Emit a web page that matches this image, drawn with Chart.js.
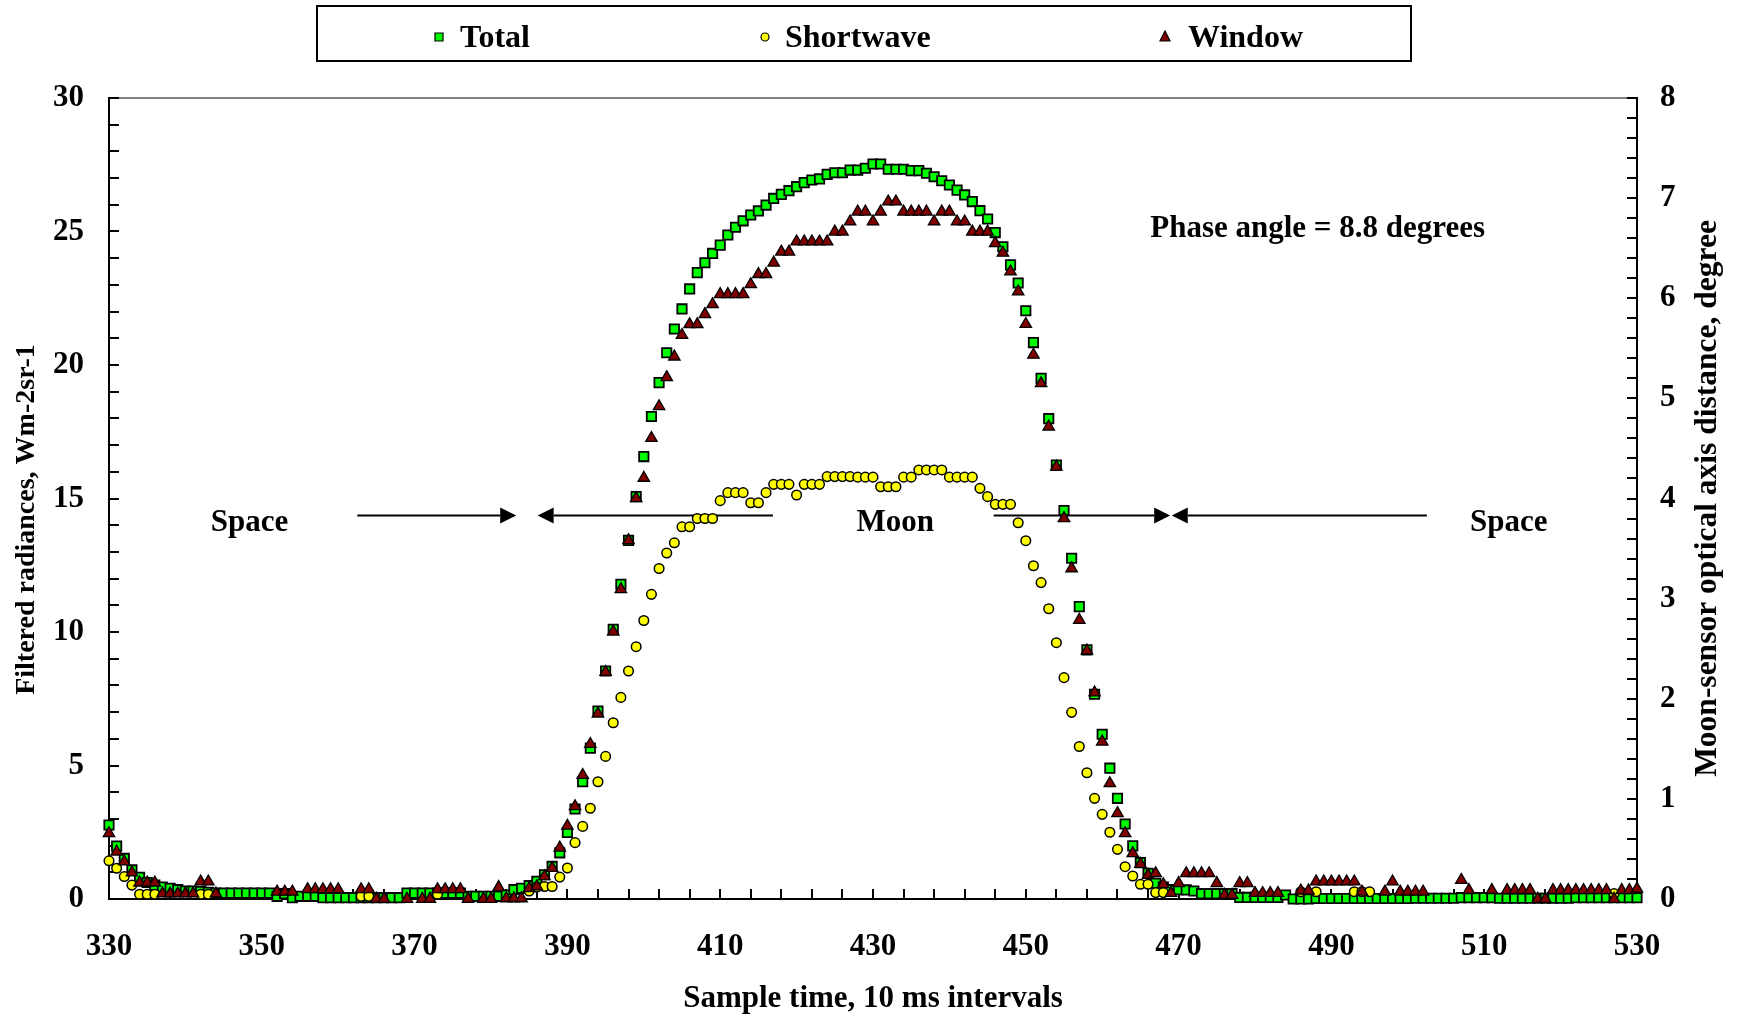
<!DOCTYPE html>
<html>
<head>
<meta charset="utf-8">
<script src="https://cdn.jsdelivr.net/npm/chart.js@4.4.1/dist/chart.umd.min.js"></script>
<style>
  html, body { margin: 0; padding: 0; background: #fff; overflow: hidden; }
  #caixa { width: 1739px; height: 1014px; }
</style>
</head>
<body>
<div id="caixa"><canvas id="grafico"></canvas></div>
<script>
// Amostras de 330 a 530 (intervalos de 10 ms)
const inicio = 330;
const fim = 530;

// Radiâncias (null = ponto fora do eixo / não visível)
const total = [
  2.77, 1.98, 1.52, 1.09, 0.81, 0.62, 0.52, 0.45, 0.40, 0.35,   // 330
  0.30, 0.30, 0.28, 0.25, 0.22, 0.22, 0.22, 0.22, 0.22, 0.22,   // 340
  0.22, 0.22, 0.10, 0.20, 0.05, 0.10, 0.10, 0.10, 0.05, 0.05,   // 350
  0.05, 0.05, 0.05, 0.05, 0.05, 0.05, 0.05, 0.05, 0.05, 0.22,   // 360
  0.22, 0.22, 0.22, 0.22, 0.22, 0.22, 0.22, 0.10, 0.10, 0.10,   // 370
  0.10, 0.10, 0.15, 0.35, 0.40, 0.50, 0.66, 0.91, 1.22, 1.73,   // 380
  2.49, 3.37, 4.39, 5.65, 7.04, 8.54, 10.10, 11.79, 13.43, 15.07, // 390
  16.57, 18.07, 19.34, 20.46, 21.35, 22.10, 22.85, 23.46, 23.83, 24.18, // 400
  24.49, 24.87, 25.16, 25.40, 25.62, 25.77, 25.99, 26.24, 26.39, 26.53, // 410
  26.68, 26.83, 26.93, 26.97, 27.14, 27.20, 27.20, 27.30, 27.30, 27.37, // 420
  27.53, 27.53, 27.33, 27.33, 27.33, 27.28, 27.28, 27.18, 27.05, 26.90, // 430
  26.74, 26.55, 26.37, 26.12, 25.78, 25.47, 24.96, 24.43, 23.75, 23.07, // 440
  22.03, 20.84, 19.50, 17.99, 16.25, 14.55, 12.76, 10.95, 9.33, 7.67,   // 450
  6.17, 4.90, 3.77, 2.81, 1.99, 1.36, 0.96, 0.59, 0.45, 0.35,   // 460
  0.35, 0.34, 0.30, 0.20, 0.20, 0.20, 0.20, 0.20, 0.06, 0.06,   // 470
  0.06, 0.06, 0.06, 0.06, 0.15, 0.00, 0.00, 0.00, 0.02, 0.02,   // 480
  0.02, 0.02, 0.02, 0.02, 0.02, 0.02, 0.02, 0.02, 0.02, 0.02,   // 490
  0.02, 0.03, 0.03, 0.03, 0.03, 0.03, 0.03, 0.05, 0.05, 0.05,   // 500
  0.05, 0.05, 0.03, 0.03, 0.03, 0.03, 0.03, 0.03, 0.03, 0.03,   // 510
  0.03, 0.03, 0.05, 0.05, 0.05, 0.05, 0.05, 0.05, 0.05, 0.05,   // 520
  0.05                                                          // 530
];

const shortwave = [
  1.43, 1.15, 0.84, 0.52, 0.18, 0.18, 0.18, null, null, null,   // 330
  null, null, 0.18, 0.18, null, null, null, null, null, null,   // 340
  null, null, null, null, null, null, null, null, null, null,   // 350
  null, null, null, 0.10, 0.10, null, null, null, null, null,   // 360
  null, null, null, 0.18, null, null, null, null, null, null,   // 370
  null, null, null, null, null, 0.30, 0.45, 0.47, 0.47, 0.82,   // 380
  1.16, 2.11, 2.72, 3.40, 4.39, 5.34, 6.60, 7.55, 8.54, 9.45,   // 390
  10.43, 11.41, 12.38, 12.96, 13.34, 13.94, 13.94, 14.25, 14.25, 14.25, // 400
  14.92, 15.22, 15.22, 15.22, 14.84, 14.84, 15.22, 15.53, 15.53, 15.53, // 410
  15.13, 15.53, 15.53, 15.53, 15.82, 15.82, 15.82, 15.82, 15.80, 15.80, // 420
  15.80, 15.44, 15.44, 15.44, 15.80, 15.80, 16.07, 16.07, 16.07, 16.07, // 430
  15.80, 15.80, 15.80, 15.80, 15.38, 15.07, 14.78, 14.78, 14.78, 14.09, // 440
  13.42, 12.48, 11.85, 10.87, 9.60, 8.29, 6.99, 5.71, 4.73, 3.77,   // 450
  3.17, 2.50, 1.86, 1.21, 0.86, 0.55, 0.55, 0.24, 0.24, null,   // 460
  null, null, null, null, null, null, null, null, null, null,   // 470
  null, null, null, null, null, null, 0.27, null, 0.27, null,   // 480
  null, null, null, 0.27, 0.27, 0.27, null, null, null, null,   // 490
  null, null, null, null, null, null, null, null, null, null,   // 500
  null, null, null, null, null, null, null, null, null, null,   // 510
  null, null, null, null, null, null, null, 0.20, null, null,   // 520
  null                                                          // 530
];

const janela = [
  2.46, 1.77, 1.40, 0.99, 0.61, 0.61, 0.61, 0.20, 0.20, 0.20,   // 330
  0.20, 0.20, 0.65, 0.65, 0.20, null, null, null, null, null,   // 340
  null, null, 0.27, 0.27, 0.27, null, 0.36, 0.36, 0.36, 0.36,   // 350
  0.36, null, null, 0.36, 0.36, 0.00, 0.00, null, null, 0.00,   // 360
  null, 0.00, 0.00, 0.36, 0.36, 0.36, 0.36, 0.00, null, 0.00,   // 370
  0.00, 0.44, 0.02, 0.02, 0.02, 0.40, 0.47, 0.85, 1.16, 1.92,   // 380
  2.74, 3.47, 4.64, 5.80, 6.94, 8.50, 10.01, 11.60, 13.43, 15.01, // 390
  15.77, 17.26, 18.45, 19.54, 20.31, 21.12, 21.52, 21.52, 21.90, 22.27, // 400
  22.65, 22.65, 22.65, 22.65, 23.02, 23.40, 23.40, 23.83, 24.24, 24.24, // 410
  24.62, 24.62, 24.62, 24.62, 24.62, 24.99, 24.99, 25.37, 25.74, 25.74, // 420
  25.37, 25.74, 26.12, 26.12, 25.74, 25.74, 25.74, 25.74, 25.37, 25.74, // 430
  25.74, 25.37, 25.37, 24.99, 24.99, 24.99, 24.56, 24.20, 23.50, 22.75, // 440
  21.53, 20.38, 19.31, 17.69, 16.19, 14.26, 12.38, 10.45, 9.30, 7.73,   // 450
  5.89, 4.33, 3.21, 2.46, 1.71, 1.31, 0.90, 0.96, 0.55, 0.22,   // 460
  0.59, 0.96, 0.96, 0.96, 0.96, 0.59, 0.15, 0.15, 0.59, 0.59,   // 470
  0.22, 0.22, 0.22, 0.22, null, null, 0.31, 0.31, 0.65, 0.65,   // 480
  0.65, 0.65, 0.65, 0.65, 0.27, null, null, 0.27, 0.65, 0.27,   // 490
  0.27, 0.27, 0.27, null, null, null, null, 0.71, 0.33, null,   // 500
  null, 0.33, null, 0.33, 0.33, 0.33, 0.33, 0.00, 0.00, 0.33,   // 510
  0.33, 0.33, 0.33, 0.33, 0.33, 0.33, 0.33, 0.00, 0.33, 0.33,   // 520
  0.38                                                          // 530
];

// Textos e setas da figura (posições em unidades dos eixos)
const rotulos = [
  { texto: 'Space', x: 348.4, y: 14.1 },
  { texto: 'Moon', x: 432.9, y: 14.1 },
  { texto: 'Space', x: 513.2, y: 14.1 },
  { texto: 'Phase angle = 8.8 degrees', x: 488.2, y: 25.1 }
];
const setas = [
  { de: 362.5, ate: 383.3 },
  { de: 416.9, ate: 386.1 },
  { de: 445.8, ate: 468.9 },
  { de: 502.5, ate: 469.1 }
];
const nivelSetas = 14.36;

const FONTE = "'Liberation Serif', 'Times New Roman', serif";
const corTotal = '#00FF00';
const corShort = '#FFFF00';
const corJanela = '#800000';

// Monta os pontos {x, y} ignorando os valores ausentes
function montarPontos(valores) {
  let pontos = [];
  for (let i = 0; i < valores.length; i++) {
    if (valores[i] !== null) {
      pontos.push({ x: inicio + i, y: valores[i] });
    }
  }
  return pontos;
}

function desenharSeta(ctx, x1, x2, y) {
  const dir = x2 > x1 ? 1 : -1;
  const comp = 16;
  ctx.beginPath();
  ctx.moveTo(x1, y);
  ctx.lineTo(x2 - dir * comp, y);
  ctx.stroke();
  ctx.beginPath();
  ctx.moveTo(x2, y);
  ctx.lineTo(x2 - dir * comp, y - 8);
  ctx.lineTo(x2 - dir * comp, y + 8);
  ctx.closePath();
  ctx.fill();
}

function marcador(ctx, tipo, cor, x, y) {
  ctx.fillStyle = cor;
  ctx.strokeStyle = '#000';
  ctx.lineWidth = 1.2;
  ctx.beginPath();
  if (tipo === 'rect') {
    ctx.rect(x - 4, y - 4, 8, 8);
  } else if (tipo === 'circle') {
    ctx.arc(x, y, 4, 0, Math.PI * 2);
  } else {
    ctx.moveTo(x, y - 6);
    ctx.lineTo(x + 5, y + 4);
    ctx.lineTo(x - 5, y + 4);
    ctx.closePath();
  }
  ctx.fill();
  ctx.stroke();
}

const decoracao = {
  id: 'decoracao',
  beforeDatasetsDraw(chart) {
    const ctx = chart.ctx;
    const a = chart.chartArea;
    const sx = chart.scales.x, sy = chart.scales.y, sy2 = chart.scales.y2;
    ctx.save();
    // borda superior cinza
    ctx.strokeStyle = '#808080';
    ctx.lineWidth = 2;
    ctx.beginPath();
    ctx.moveTo(a.left, a.top);
    ctx.lineTo(a.right, a.top);
    ctx.stroke();

    // marcas para dentro
    ctx.strokeStyle = '#000';
    ctx.beginPath();
    for (let v = 0; v <= 30; v += 1) {
      const py = Math.round(sy.getPixelForValue(v));
      ctx.moveTo(a.left, py);
      ctx.lineTo(a.left + 10, py);
    }
    for (let v = inicio; v <= fim; v += 4) {
      const px = Math.round(sx.getPixelForValue(v));
      ctx.moveTo(px, a.bottom);
      ctx.lineTo(px, a.bottom - 10);
    }
    for (let k = 0; k <= 40; k++) {
      const py = Math.round(sy2.getPixelForValue(k * 0.2));
      ctx.moveTo(a.right, py);
      ctx.lineTo(a.right - 10, py);
    }
    ctx.stroke();

    // setas Space / Moon
    ctx.fillStyle = '#000';
    ctx.lineWidth = 2;
    const ys = sy.getPixelForValue(nivelSetas);
    setas.forEach(function (s) {
      desenharSeta(ctx, sx.getPixelForValue(s.de), sx.getPixelForValue(s.ate), ys);
    });
    ctx.restore();
  },
  afterDraw(chart) {
    const ctx = chart.ctx;
    const a = chart.chartArea;
    const sx = chart.scales.x, sy = chart.scales.y;
    const meio = (a.top + a.bottom) / 2;
    ctx.save();
    ctx.fillStyle = '#000';
    ctx.font = 'bold 31px ' + FONTE;
    ctx.textAlign = 'center';
    ctx.textBaseline = 'middle';
    rotulos.forEach(function (r) {
      ctx.fillText(r.texto, sx.getPixelForValue(r.x), sy.getPixelForValue(r.y));
    });

    // título do eixo esquerdo
    ctx.save();
    ctx.translate(26.5, meio + 21);
    ctx.rotate(-Math.PI / 2);
    ctx.font = 'bold 28px ' + FONTE;
    ctx.fillText('Filtered radiances, Wm-2sr-1', 0, 0);
    ctx.restore();

    // título do eixo direito
    ctx.save();
    ctx.translate(1708, meio);
    ctx.rotate(-Math.PI / 2);
    ctx.font = 'bold 31.5px ' + FONTE;
    ctx.fillText('Moon-sensor optical axis distance, degree', 0, 0);
    ctx.restore();

    // legenda em caixa
    ctx.strokeStyle = '#000';
    ctx.lineWidth = 2;
    ctx.strokeRect(317, 6, 1094, 55);
    const itens = [
      { nome: 'Total', tipo: 'rect', cor: corTotal, xm: 439, xt: 460 },
      { nome: 'Shortwave', tipo: 'circle', cor: corShort, xm: 765, xt: 785 },
      { nome: 'Window', tipo: 'triangle', cor: corJanela, xm: 1165, xt: 1188 }
    ];
    itens.forEach(function (it) {
      marcador(ctx, it.tipo, it.cor, it.xm, 37);
      ctx.fillStyle = '#000';
      ctx.font = 'bold 32px ' + FONTE;
      ctx.textAlign = 'left';
      ctx.textBaseline = 'middle';
      ctx.fillText(it.nome, it.xt, 39);
    });
    ctx.restore();
  }
};

const fonteEixo = { family: FONTE, size: 31, weight: 'bold' };

const config = {
  type: 'scatter',
  data: {
    datasets: [
      {
        label: 'Total',
        data: montarPontos(total),
        pointStyle: 'rect',
        pointRadius: 6.6,
        backgroundColor: corTotal,
        borderColor: '#000',
        borderWidth: 1.8,
        order: 3,
        clip: false
      },
      {
        label: 'Shortwave',
        data: montarPontos(shortwave),
        pointStyle: 'circle',
        pointRadius: 4.8,
        backgroundColor: corShort,
        borderColor: '#000',
        borderWidth: 1.5,
        order: 2,
        clip: false
      },
      {
        label: 'Window',
        data: montarPontos(janela),
        pointStyle: 'triangle',
        pointRadius: 6.6,
        backgroundColor: corJanela,
        borderColor: '#000',
        borderWidth: 1.3,
        order: 1,
        clip: false
      }
    ]
  },
  options: {
    responsive: true,
    maintainAspectRatio: false,
    animation: false,
    layout: { padding: { top: 98, left: 0, right: 0, bottom: 0 } },
    plugins: {
      legend: { display: false },
      tooltip: { enabled: false }
    },
    scales: {
      x: {
        type: 'linear',
        position: 'bottom',
        min: inicio,
        max: fim,
        ticks: { stepSize: 20, padding: 29, color: '#000', font: fonteEixo, autoSkip: false, maxRotation: 0 },
        grid: { display: false, drawTicks: false },
        border: { display: true, color: '#000', width: 2 },
        title: {
          display: true,
          text: 'Sample time, 10 ms intervals',
          color: '#000',
          font: { family: FONTE, size: 31, weight: 'bold', lineHeight: 1.0 },
          padding: { top: 0, bottom: 0 }
        },
        afterFit: function (s) { s.height = 115; }
      },
      y: {
        position: 'left',
        min: 0,
        max: 30,
        ticks: { stepSize: 5, padding: 25, color: '#000', font: fonteEixo },
        grid: { display: false, drawTicks: false },
        border: { display: true, color: '#000', width: 2 },
        afterFit: function (s) { s.width = 109; }
      },
      y2: {
        position: 'right',
        min: 0,
        max: 8,
        ticks: { stepSize: 1, padding: 23, color: '#000', font: fonteEixo },
        grid: { display: false, drawTicks: false },
        border: { display: true, color: '#000', width: 2 },
        afterFit: function (s) { s.width = 102; }
      }
    }
  },
  plugins: [decoracao]
};

let grafico = new Chart(document.getElementById('grafico'), config);
</script>
</body>
</html>
